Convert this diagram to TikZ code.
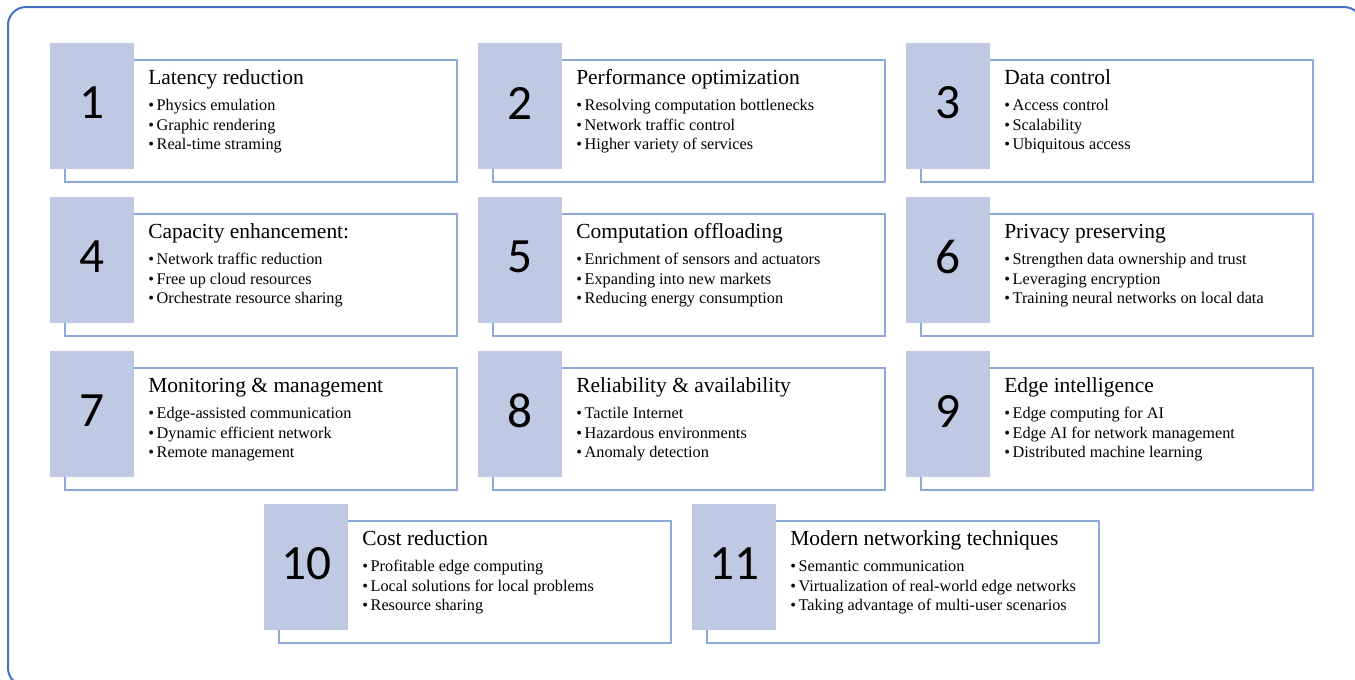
\documentclass[tikz,border=0pt]{standalone}
\usepackage{fontspec}
\setmainfont{Liberation Serif}
\newfontfamily\numfont{Carlito}
\definecolor{frameblue}{HTML}{4472C4}
\definecolor{boxblue}{HTML}{8EA9DB}
\definecolor{sqfill}{HTML}{BFC9E3}
\tikzset{
 panel/.style={draw=boxblue, line width=0.9pt, fill=white, inner sep=0pt, outer sep=0pt,
   minimum width=294pt, minimum height=91.5pt, anchor=north west},
 numsq/.style={fill=sqfill, inner sep=0pt, outer sep=0pt, minimum width=63pt,
   minimum height=94.5pt, anchor=north west},
 numtxt/.style={inner sep=0pt, font=\numfont\fontsize{37}{40}\selectfont},
 ttl/.style={anchor=base west, inner sep=0pt, font=\fontsize{16.1}{18}\selectfont},
 bul/.style={anchor=base west, inner sep=0pt, font=\fontsize{12.2}{14}\selectfont},
 frame/.style={draw=frameblue, line width=1.5pt, rounded corners=13.5pt},
}
\newcommand\benefit[7]{%
 \node[panel] (box#3) at (#1+15,#2+17) {};
 \node[numsq] (sq#3) at (#1,#2) {};
 \node[numtxt, yshift=2.25pt] (num#3) at (sq#3.center) {#3};
 \node[ttl] (title#3) at (#1+98,#2+41) {#4};
 \node[bul] (b#3a) at (#1+98,#2+67.7) {•\,#5};
 \node[bul] (b#3b) at (#1+98,#2+87.3) {•\,#6};
 \node[bul] (b#3c) at (#1+98,#2+106.7) {•\,#7};
}
\begin{document}
\begin{tikzpicture}[x=0.75pt,y=-0.75pt]
\useasboundingbox (0,0) rectangle (1355,679);
\clip (0,0) rectangle (1355,679);
\path[frame] (8,7) rectangle (1362,686);
\benefit{50}{43}{1}{Latency reduction}{Physics emulation}{Graphic rendering}{Real-time straming}
\benefit{478}{43}{2}{Performance optimization}{Resolving computation bottlenecks}{Network traffic control}{Higher variety of services}
\benefit{906}{43}{3}{Data control}{Access control}{Scalability}{Ubiquitous access}
\benefit{50}{197}{4}{Capacity enhancement:}{Network traffic reduction}{Free up cloud resources}{Orchestrate resource sharing}
\benefit{478}{197}{5}{Computation offloading}{Enrichment of sensors and actuators}{Expanding into new markets}{Reducing energy consumption}
\benefit{906}{197}{6}{Privacy preserving}{Strengthen data ownership and trust}{Leveraging encryption}{Training neural networks on local data}
\benefit{50}{351}{7}{Monitoring \& management}{Edge-assisted communication}{Dynamic efficient network}{Remote management}
\benefit{478}{351}{8}{Reliability \& availability}{Tactile Internet}{Hazardous environments}{Anomaly detection}
\benefit{906}{351}{9}{Edge intelligence}{Edge computing for AI}{Edge AI for network management}{Distributed machine learning}
\benefit{264}{504}{10}{Cost reduction}{Profitable edge computing}{Local solutions for local problems}{Resource sharing}
\benefit{692}{504}{11}{Modern networking techniques}{Semantic communication}{Virtualization of real-world edge networks}{Taking advantage of multi-user scenarios}
\end{tikzpicture}
\end{document}
